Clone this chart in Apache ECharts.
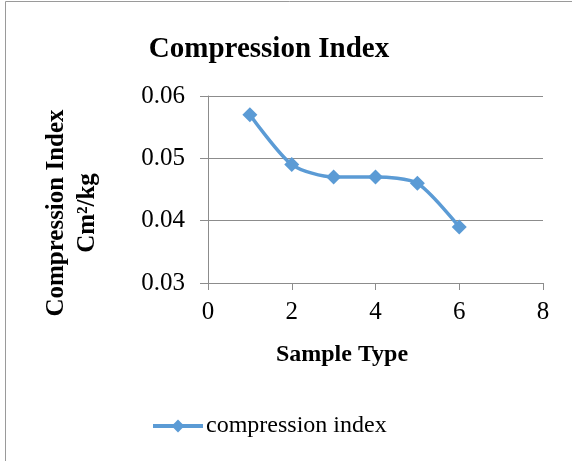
<!DOCTYPE html>
<html>
<head>
<meta charset="utf-8">
<script src="https://cdn.jsdelivr.net/npm/echarts@6/dist/echarts.min.js"></script>
<style>
  html, body { margin: 0; padding: 0; background: #fff; }
  #main { width: 572px; height: 461px; }
</style>
</head>
<body>
<div id="main"></div>
<script>
// sample type on x, compression index on y
const sampleTypes = [1, 2, 3, 4, 5, 6]
const compressionIndex = [0.057, 0.049, 0.047, 0.047, 0.046, 0.039]
const xTicks = [0, 2, 4, 6, 8]
const yTicks = [0.03, 0.04, 0.05, 0.06]

const serif = '"Liberation Serif", "Times New Roman", serif'
const blue = '#5b9bd5'

const chart = echarts.init(document.getElementById('main'))

const option = {
  animation: false,
  textStyle: { fontFamily: serif },
  graphic: [
    {
      type: 'rect',
      shape: { x: 5.5, y: 1.5, width: 600, height: 500 },
      style: { fill: 'none', stroke: '#9a9a9a', lineWidth: 1 },
      silent: true
    },
    {
      // y axis title, two lines, reads bottom to top
      type: 'text',
      x: 72,
      y: 213,
      rotation: Math.PI / 2,
      style: {
        text: 'Compression Index\nCm²/kg',
        font: 'bold 25px ' + serif,
        fill: '#000',
        align: 'center',
        verticalAlign: 'middle',
        lineHeight: 31
      }
    },
    {
      type: 'text',
      x: 342,
      y: 355,
      style: {
        text: 'Sample Type',
        font: 'bold 24px ' + serif,
        fill: '#000',
        align: 'center',
        verticalAlign: 'middle'
      }
    }
  ],
  title: {
    text: 'Compression Index',
    left: 264,
    top: 30,
    textAlign: 'center',
    textStyle: { fontFamily: serif, fontSize: 29, fontWeight: 'bold', color: '#000' }
  },
  legend: {
    bottom: 18,
    left: 146,
    itemWidth: 50,
    itemHeight: 16,
    itemGap: 4,
    lineStyle: { width: 4 },
    textStyle: { fontFamily: serif, fontSize: 24, color: '#000', padding: [0, 0, 0, -2] },
    data: ['compression index']
  },
  grid: { left: 208, right: 29, top: 96, bottom: 178 },
  xAxis: {
    type: 'value',
    min: xTicks[0],
    max: xTicks[xTicks.length - 1],
    interval: 2,
    axisLine: { lineStyle: { color: '#8c8c8c', width: 1 } },
    axisTick: { show: true, length: 7, lineStyle: { color: '#8c8c8c' } },
    axisLabel: { fontFamily: serif, fontSize: 25, color: '#000', margin: 17 },
    splitLine: { show: false }
  },
  yAxis: {
    type: 'value',
    min: yTicks[0],
    max: yTicks[yTicks.length - 1],
    interval: 0.01,
    axisLine: { show: true, lineStyle: { color: '#8c8c8c', width: 1 } },
    axisTick: { show: true, length: 8, lineStyle: { color: '#8c8c8c' } },
    axisLabel: {
      fontFamily: serif, fontSize: 25, color: '#000', margin: 23,
      formatter: (v) => v.toFixed(2)
    },
    splitLine: { show: true, lineStyle: { color: '#8c8c8c', width: 1 } }
  },
  series: [
    {
      name: 'compression index',
      type: 'line',
      smooth: 0.25,
      symbol: 'diamond',
      symbolSize: 15,
      color: blue,
      lineStyle: { color: blue, width: 3.5 },
      itemStyle: { color: blue },
      data: sampleTypes.map((x, i) => [x, compressionIndex[i]])
    }
  ]
}

chart.setOption(option)
</script>
</body>
</html>
